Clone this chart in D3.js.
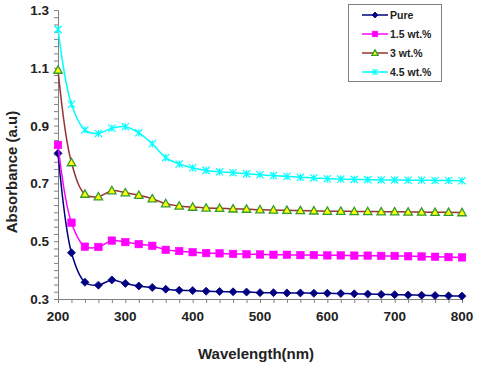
<!DOCTYPE html>
<html><head><meta charset="utf-8">
<script src="https://cdn.jsdelivr.net/npm/d3@7"></script>
<style>body{margin:0;background:#fff}svg{display:block}</style>
</head><body>
<svg id="c" width="480" height="368"></svg>
<script>
const wavelengths = [200,220,240,260,280,300,320,340,360,380,400,420,440,460,480,500,520,540,560,580,600,620,640,660,680,700,720,740,760,780,800];
const pure = [0.804,0.46,0.358,0.348,0.366,0.354,0.345,0.340,0.334,0.330,0.329,0.327,0.326,0.325,0.324,0.322,0.322,0.321,0.321,0.320,0.320,0.319,0.318,0.317,0.316,0.315,0.314,0.313,0.312,0.311,0.310];
const wt15 = [0.833,0.564,0.481,0.480,0.502,0.497,0.490,0.484,0.470,0.466,0.462,0.459,0.458,0.456,0.455,0.454,0.453,0.453,0.452,0.452,0.451,0.451,0.450,0.450,0.449,0.449,0.448,0.447,0.446,0.445,0.444];
const wt3 = [1.092,0.772,0.663,0.654,0.675,0.668,0.659,0.647,0.630,0.622,0.618,0.615,0.614,0.612,0.611,0.609,0.608,0.607,0.606,0.605,0.604,0.604,0.603,0.603,0.602,0.602,0.601,0.601,0.600,0.600,0.599];
const wt45 = [1.233,0.974,0.885,0.873,0.891,0.896,0.875,0.837,0.789,0.767,0.754,0.745,0.740,0.737,0.733,0.730,0.727,0.724,0.721,0.719,0.716,0.715,0.714,0.713,0.712,0.712,0.711,0.711,0.710,0.710,0.709];
const seriesNames = ["Pure","1.5 wt.%","3 wt.%","4.5 wt.%"];
const xTickLabels = [200,300,400,500,600,700,800];
const yTickLabels = [0.3,0.5,0.7,0.9,1.1,1.3];

const series = [
  {name:seriesNames[0], values:pure, line:"#000080", marker:"diamond", fill:"#000080", stroke:"#000080"},
  {name:seriesNames[1], values:wt15, line:"#FF00FF", marker:"square", fill:"#FF00FF", stroke:"#FF00FF"},
  {name:seriesNames[2], values:wt3, line:"#993333", marker:"triangle", fill:"#FFFF00", stroke:"#339933"},
  {name:seriesNames[3], values:wt45, line:"#00FFFF", marker:"star", fill:"none", stroke:"#00FFFF"}
];

const svg = d3.select("#c");
const x = d3.scaleLinear().domain([200,800]).range([58,462]);
const y = d3.scaleLinear().domain([0.3,1.3]).range([299,10]);
const font = "'Liberation Sans', Arial, sans-serif";
const axisColor = "#808080";

// y axis
const yAxis = svg.append("g").attr("transform","translate(58,0)")
  .call(d3.axisLeft(y).tickValues(d3.range(0,41).map(i=>0.3+i*0.025)).tickSize(4).tickFormat(""));
yAxis.select(".domain").attr("stroke",axisColor);
yAxis.selectAll(".tick line").attr("stroke",axisColor);
svg.append("g").selectAll("text").data(yTickLabels).join("text")
  .attr("x",49).attr("y",d=>y(d)+5).attr("text-anchor","end")
  .attr("font-family",font).attr("font-weight","bold").attr("font-size",13.5).attr("fill","#222")
  .text(d=>d.toFixed(1));

// x axis
const xAxis = svg.append("g").attr("transform","translate(0,299)")
  .call(d3.axisBottom(x).tickValues(wavelengths).tickSize(4).tickFormat(""));
xAxis.select(".domain").attr("stroke",axisColor);
xAxis.selectAll(".tick line").attr("stroke",axisColor);
svg.append("g").selectAll("text").data(xTickLabels).join("text")
  .attr("x",d=>x(d)).attr("y",321).attr("text-anchor","middle")
  .attr("font-family",font).attr("font-weight","bold").attr("font-size",13.5).attr("fill","#222")
  .text(d=>d);

// axis titles
svg.append("text").attr("x",256).attr("y",359).attr("text-anchor","middle")
  .attr("font-family",font).attr("font-weight","bold").attr("font-size",15).attr("fill","#222")
  .text("Wavelength(nm)");
svg.append("text").attr("transform","translate(17,172) rotate(-90)").attr("text-anchor","middle")
  .attr("font-family",font).attr("font-weight","bold").attr("font-size",15).attr("fill","#222")
  .text("Absorbance (a.u)");

function drawMarker(g, type, cx, cy, s){
  if(type==="diamond"){
    g.append("path").attr("d",`M${cx},${cy-s.r}L${cx+s.r},${cy}L${cx},${cy+s.r}L${cx-s.r},${cy}Z`)
      .attr("fill",s.fill).attr("stroke",s.stroke).attr("stroke-width",0.8);
  } else if(type==="square"){
    g.append("rect").attr("x",cx-s.r).attr("y",cy-s.r).attr("width",2*s.r).attr("height",2*s.r)
      .attr("fill",s.fill).attr("stroke",s.stroke).attr("stroke-width",0.5);
  } else if(type==="triangle"){
    g.append("path").attr("d",`M${cx},${cy-s.r}L${cx+s.r},${cy+s.r*0.75}L${cx-s.r},${cy+s.r*0.75}Z`)
      .attr("fill",s.fill).attr("stroke",s.stroke).attr("stroke-width",1.3);
  } else if(type==="star"){
    const r=s.r;
    g.append("path").attr("d",`M${cx-r},${cy-r}L${cx+r},${cy+r}M${cx-r},${cy+r}L${cx+r},${cy-r}M${cx},${cy-r}L${cx},${cy+r}`)
      .attr("fill","none").attr("stroke",s.stroke).attr("stroke-width",1.2);
  }
}
const sizes = {diamond:4, square:3.8, triangle:4.2, star:3.6};

const line = d3.line().x((d,i)=>x(wavelengths[i])).y(d=>y(d)).curve(d3.curveCatmullRom.alpha(0.5));
series.forEach(s=>{
  svg.append("path").attr("d",line(s.values)).attr("fill","none").attr("stroke",s.line).attr("stroke-width",1.5);
  const g = svg.append("g");
  s.values.forEach((v,i)=>drawMarker(g, s.marker, x(wavelengths[i]), y(v), {r:sizes[s.marker], fill:s.fill, stroke:s.stroke}));
});

// legend
const lg = svg.append("g");
lg.append("rect").attr("x",348.5).attr("y",4.5).attr("width",93).attr("height",77)
  .attr("fill","#fff").attr("stroke",axisColor).attr("stroke-width",1);
series.forEach((s,i)=>{
  const ly = 15 + i*19;
  lg.append("line").attr("x1",362).attr("x2",388).attr("y1",ly).attr("y2",ly).attr("stroke",s.line).attr("stroke-width",1.5);
  drawMarker(lg, s.marker, 375, ly, {r:sizes[s.marker]*0.75, fill:s.fill, stroke:s.stroke});
  lg.append("text").attr("x",390).attr("y",ly+4).attr("font-family",font).attr("font-weight","bold")
    .attr("font-size",10.5).attr("fill","#222").text(s.name);
});
</script>
</body></html>
